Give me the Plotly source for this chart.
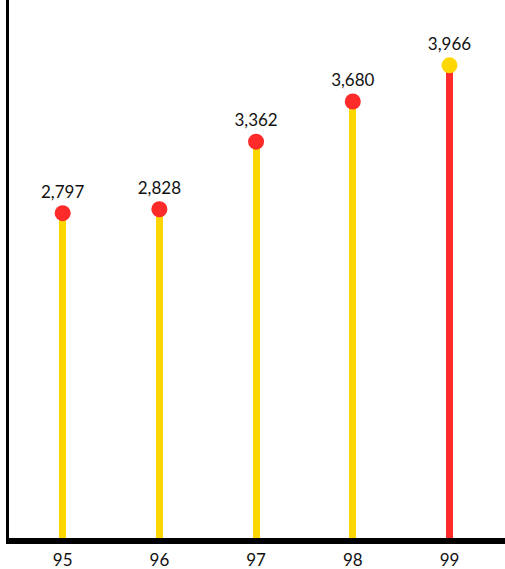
import plotly.graph_objects as go

# Yearly totals shown as a lollipop chart
years = ["95", "96", "97", "98", "99"]
values = [2797, 2828, 3362, 3680, 3966]
value_labels = ["2,797", "2,828", "3,362", "3,680", "3,966"]

YELLOW = "#FFD700"
RED = "#FF2A2A"

# the latest year is highlighted by swapping stem and head colours
stem_colors = [YELLOW, YELLOW, YELLOW, YELLOW, RED]
head_colors = [RED, RED, RED, RED, YELLOW]

fig = go.Figure()

# stems
fig.add_trace(go.Bar(
    x=years,
    y=values,
    width=0.072,
    marker=dict(color=stem_colors, line=dict(width=0)),
    hoverinfo="skip",
    showlegend=False,
))

# heads with value labels
fig.add_trace(go.Scatter(
    x=years,
    y=values,
    mode="markers+text",
    marker=dict(size=16, color=head_colors, line=dict(width=0)),
    text=value_labels,
    textposition="top center",
    textfont=dict(family="Lato", size=17, color="#111111"),
    cliponaxis=False,
    showlegend=False,
))

fig.update_layout(
    width=505,
    height=569,
    margin=dict(l=9, r=0, t=0, b=31),
    paper_bgcolor="white",
    plot_bgcolor="white",
    font=dict(family="Lato", size=17, color="#111111"),
    bargap=0,
)

fig.update_xaxes(
    type="category",
    range=[-0.555, 4.574],
    showline=True,
    linecolor="black",
    linewidth=6,
    showgrid=False,
    zeroline=False,
    ticks="",
    automargin=False,
    ticklabelstandoff=2,
    tickfont=dict(family="Lato", size=17, color="#111111"),
)

fig.update_yaxes(
    range=[230, 4482],
    showline=True,
    linecolor="black",
    linewidth=3,
    showgrid=False,
    zeroline=False,
    showticklabels=False,
    ticks="",
    automargin=False,
)

fig.write_html("out.html")
